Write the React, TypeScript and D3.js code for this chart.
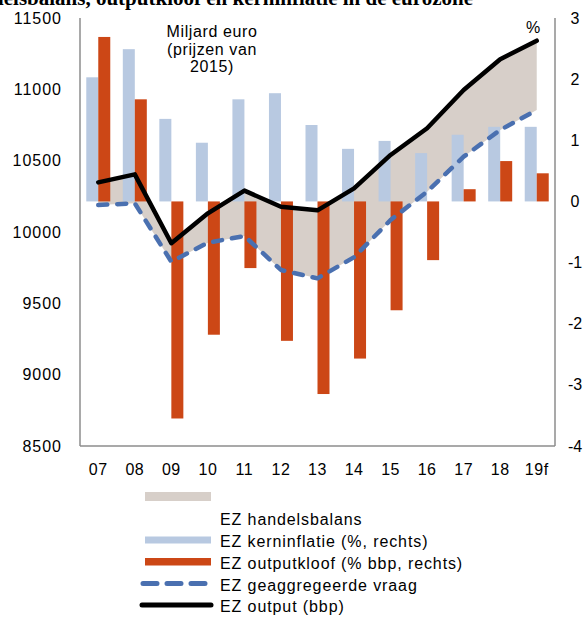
import React from "react"
import * as d3 from "d3"

const years = ["07", "08", "09", "10", "11", "12", "13", "14", "15", "16", "17", "18", "19f"]
// right axis, %
const kerninflatie = [2.03, 2.49, 1.35, 0.96, 1.67, 1.77, 1.25, 0.86, 0.99, 0.79, 1.09, 1.22, 1.22]
const outputkloof = [2.69, 1.67, -3.55, -2.18, -1.09, -2.28, -3.15, -2.57, -1.78, -0.96, 0.2, 0.66, 0.46]
// left axis, miljard euro
const output = [10348, 10404, 9921, 10131, 10290, 10177, 10152, 10306, 10540, 10727, 10995, 11211, 11341]
const vraag = [10189, 10201, 9792, 9925, 9972, 9734, 9675, 9823, 10084, 10283, 10528, 10715, 10855]

const leftTicks = [8500, 9000, 9500, 10000, 10500, 11000, 11500]
const rightTicks = [-4, -3, -2, -1, 0, 1, 2, 3]

const legendItems = [
  "EZ handelsbalans",
  "EZ kerninflatie (%, rechts)",
  "EZ outputkloof (% bbp, rechts)",
  "EZ geaggregeerde vraag",
  "EZ output (bbp)"
]

const BLUE = "#b8c9e1"
const ORANGE = "#cc4716"
const GREY = "#d7cfc9"
const DASH = "#4a70b0"
const FONT = "'Liberation Sans', Arial, sans-serif"

const left = 80
const right = 555
const top = 18
const bottom = 446

export default function App() {
  const x = d3.scaleBand().domain(years).range([left, right])
  const yL = d3.scaleLinear().domain([8500, 11500]).range([bottom, top])
  const yR = d3.scaleLinear().domain([-4, 3]).range([bottom, top])
  const cx = (i: number) => (x(years[i]) as number) + x.bandwidth() / 2
  const barW = 12

  const area = d3
    .area<number>()
    .x((d, i) => cx(i))
    .y0((d, i) => yL(vraag[i]))
    .y1((d, i) => yL(output[i]))
  const line = d3
    .line<number>()
    .x((d, i) => cx(i))
    .y(d => yL(d))

  return (
    <svg
      width={587}
      height={617}
      style={{ position: "absolute", left: 0, top: 0, background: "#fff" }}
      fontFamily={FONT}
    >
      {/* title, cut off at the top edge as in the source */}
      <text
        x={473}
        y={5}
        textAnchor="end"
        fontFamily="'Liberation Serif', 'DejaVu Serif', serif"
        fontWeight="bold"
        fontSize={21}
      >
        Output, vraag, handelsbalans, outputkloof en kerninflatie in de eurozone
      </text>

      <path d={area(output) as string} fill={GREY} />

      {years.map((yr, i) => (
        <g key={yr}>
          <rect
            x={cx(i) - barW}
            width={barW}
            y={Math.min(yR(kerninflatie[i]), yR(0))}
            height={Math.abs(yR(kerninflatie[i]) - yR(0))}
            fill={BLUE}
          />
          <rect
            x={cx(i)}
            width={barW}
            y={Math.min(yR(outputkloof[i]), yR(0))}
            height={Math.abs(yR(outputkloof[i]) - yR(0))}
            fill={ORANGE}
          />
        </g>
      ))}

      <path
        d={line(vraag) as string}
        fill="none"
        stroke={DASH}
        strokeWidth={4.5}
        strokeDasharray="9,10"
        strokeLinecap="round"
        strokeLinejoin="round"
      />
      <path
        d={line(output) as string}
        fill="none"
        stroke="#000"
        strokeWidth={4.5}
        strokeLinecap="round"
        strokeLinejoin="round"
      />

      {/* axes */}
      <line x1={left} x2={left} y1={top} y2={bottom} stroke="#8c8c8c" strokeWidth={1.5} />
      <line x1={right} x2={right} y1={top} y2={bottom} stroke="#8c8c8c" strokeWidth={1.5} />
      <line x1={left} x2={right} y1={bottom} y2={bottom} stroke="#8c8c8c" strokeWidth={1.5} />

      {leftTicks.map(t => (
        <text key={t} x={62} y={yL(t)} dy="0.35em" textAnchor="end" fontSize={16} letterSpacing={1}>
          {t}
        </text>
      ))}
      {rightTicks.map(t => (
        <text key={t} x={575} y={yR(t)} dy="0.35em" textAnchor="middle" fontSize={16}>
          {t}
        </text>
      ))}
      {years.map((yr, i) => (
        <text key={yr} x={cx(i)} y={475} textAnchor="middle" fontSize={16} letterSpacing={0.5}>
          {yr}
        </text>
      ))}

      <text x={212} textAnchor="middle" fontSize={16} letterSpacing={0.6}>
        <tspan x={212} y={36.5}>Miljard euro</tspan>
        <tspan x={212} y={54.5}>(prijzen van</tspan>
        <tspan x={212} y={72}>2015)</tspan>
      </text>
      <text x={533} y={33} textAnchor="middle" fontSize={16}>%</text>

      {/* legend */}
      <rect x={145} y={492} width={66} height={9} fill={GREY} />
      <rect x={145} y={536.5} width={66} height={7} fill={BLUE} />
      <rect x={145} y={558} width={66} height={7.5} fill={ORANGE} />
      <line x1={143} x2={207} y1={583.5} y2={583.5} stroke={DASH} strokeWidth={5} strokeDasharray="14,10" strokeLinecap="round" />
      <line x1={142} x2={211} y1={605} y2={605} stroke="#000" strokeWidth={5} strokeLinecap="round" />
      {legendItems.map((t, i) => (
        <text key={t} x={220} y={[525, 546.5, 569, 590.5, 611.5][i]} fontSize={16} letterSpacing={0.9}>
          {t}
        </text>
      ))}
    </svg>
  )
}
